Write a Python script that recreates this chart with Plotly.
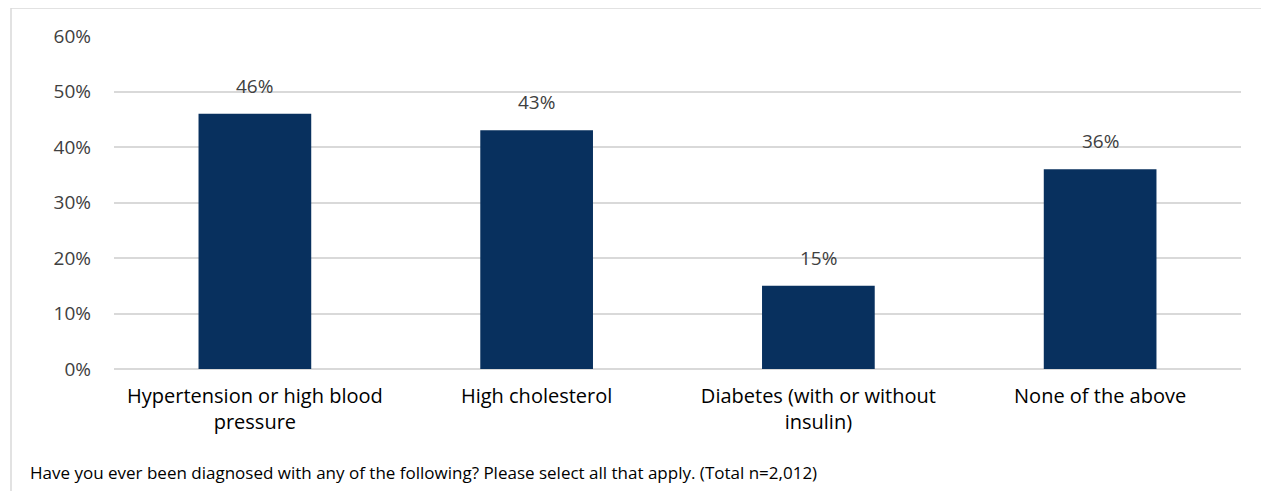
import plotly.graph_objects as go

categories = ["Hypertension or high blood<br>pressure", "High cholesterol",
              "Diabetes (with or without<br>insulin)", "None of the above"]
values = [46, 43, 15, 36]
labels = ["46%", "43%", "15%", "36%"]
tick_vals = [0, 10, 20, 30, 40, 50, 60]
tick_text = ["0%", "10%", "20%", "30%", "40%", "50%", "60%"]
footer = "Have you ever been diagnosed with any of the following? Please select all that apply. (Total n=2,012)"

FONT = "Open Sans"
OFF = 8  # page body margin
W, H = 1269 - OFF, 491 - OFF
L, T = 114 - OFF, 36 - OFF
pw, ph = 1127, 333
R, B = W - L - pw, H - T - ph
bottom = T + ph  # fig px of plot bottom

def px_to_xpaper(px):
    return (px - OFF - L) / pw

def py_to_ypaper(py):
    return (bottom - (py - OFF)) / ph

fig = go.Figure()
fig.add_trace(go.Bar(x=categories, y=values, marker=dict(color="#08305E", line=dict(width=0)),
                     hoverinfo="skip"))

for c, v, t in zip(categories, values, labels):
    fig.add_annotation(x=c, y=v, text=t, showarrow=False, yanchor="bottom", yshift=13,
                       font=dict(family=FONT, size=19, color="#404040"))

fig.add_annotation(x=px_to_xpaper(30), y=py_to_ypaper(472), xref="paper", yref="paper",
                   text=footer, showarrow=False, xanchor="left", yanchor="middle", xshift=-2,
                   font=dict(family=FONT, size=17, color="#000000"))

# outer chart border
fig.add_shape(type="rect", xref="paper", yref="paper",
              x0=px_to_xpaper(11), x1=px_to_xpaper(1290),
              y0=py_to_ypaper(510), y1=py_to_ypaper(8),
              line=dict(color="#D9D9D9", width=1.5), fillcolor="rgba(0,0,0,0)", layer="below")

fig.update_layout(
    width=W, height=H,
    margin=dict(l=L, r=R, t=T, b=B, pad=0),
    paper_bgcolor="white", plot_bgcolor="white",
    bargap=0.6, showlegend=False,
    font=dict(family=FONT, color="#000000"),
    xaxis=dict(showgrid=False, showline=False, ticks="", tickfont=dict(size=20, color="#000000"),
               ticklabelstandoff=13),
    yaxis=dict(range=[0, 60], tickvals=tick_vals, ticktext=tick_text, showgrid=True,
               gridcolor="#D9D9D9", gridwidth=1.5, zeroline=True, zerolinecolor="#D9D9D9",
               zerolinewidth=1.5, showline=False, ticks="", ticklabelstandoff=22,
               tickfont=dict(size=19, color="#404040")),
)

fig.write_html("out.html")
